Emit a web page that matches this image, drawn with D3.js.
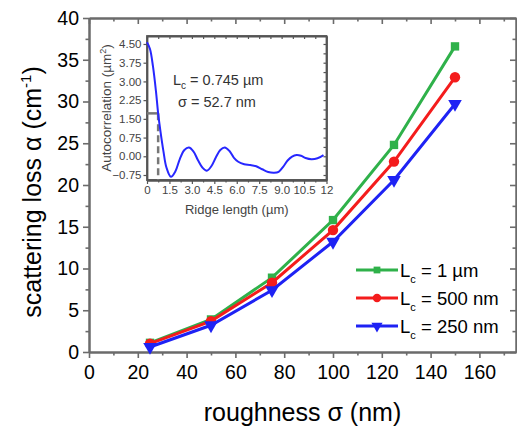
<!DOCTYPE html>
<html>
<head>
<meta charset="utf-8">
<script src="https://cdn.jsdelivr.net/npm/d3@7"></script>
<style>
  body { margin: 0; background: #fff; }
  svg { display: block; font-family: "Liberation Sans", Arial, Helvetica, sans-serif; }
</style>
</head>
<body>
<svg id="chart" width="517" height="432"></svg>
<script>
// Scattering loss versus sidewall roughness for three correlation lengths
const roughness = [25, 50, 75, 100, 125, 150];
const lossLc1um = [1.1, 3.9, 8.9, 15.8, 24.8, 36.6];
const lossLc500nm = [1.0, 3.7, 8.3, 14.6, 22.8, 32.9];
const lossLc250nm = [0.6, 3.2, 7.4, 13.2, 20.6, 29.7];
const seriesNames = ["1 \u00b5m", "500 nm", "250 nm"];
const xTicks = [0, 20, 40, 60, 80, 100, 120, 140, 160];
const yTicks = [0, 5, 10, 15, 20, 25, 30, 35, 40];

// Inset: measured autocorrelation of the ridge sidewall
const ridgeLength = [0, 0.2, 0.4, 0.6, 0.745, 0.9, 1.1, 1.3, 1.6, 1.9, 2.2, 2.5, 2.8, 3.1, 3.4, 3.7, 4.0, 4.3, 4.6, 4.9, 5.2, 5.5, 5.8, 6.1, 6.5, 6.9, 7.3, 7.7, 8.1, 8.5, 8.8, 9.1, 9.4, 9.7, 10.0, 10.3, 10.6, 11.0, 11.4, 11.8];
const autocorr = [4.57, 4.3, 3.6, 2.6, 1.72, 1.0, 0.2, -0.45, -0.82, -0.6, -0.1, 0.25, 0.35, 0.2, -0.15, -0.45, -0.58, -0.4, -0.05, 0.25, 0.35, 0.22, -0.05, -0.22, -0.32, -0.35, -0.4, -0.52, -0.63, -0.66, -0.62, -0.42, -0.17, -0.01, 0.05, 0.02, -0.07, -0.12, -0.08, 0.05];
const insetXTicks = [0, 1.5, 3, 4.5, 6, 7.5, 9, 10.5, 12];
const insetYTicks = [-0.75, 0, 0.75, 1.5, 2.25, 3, 3.75, 4.5];
const corrLength = 0.745;   // µm
const corrLevel = 1.72;     // autocorrelation at Lc
const sigmaNm = 52.7;

const svg = d3.select("#chart");
const axisColor = "#6b6b6b";
const colors = ["#2fb14a", "#f41c1c", "#1e22f4"];

// ---- main plot ----
const x = d3.scaleLinear().domain([0, 175]).range([89, 516]);
const y = d3.scaleLinear().domain([0, 40]).range([352, 18]);

function styleAxis(g, labelSize, labelColor) {
  g.selectAll(".domain").attr("stroke", axisColor).attr("stroke-width", 2);
  g.selectAll(".tick line").attr("stroke", axisColor).attr("stroke-width", 1.6);
  g.selectAll(".tick text").attr("fill", labelColor).style("font-size", labelSize + "px")
    .style("font-family", '"Liberation Sans", Arial, sans-serif');
}
const minorX = d3.range(10, 175, 20);
const minorY = d3.range(2.5, 40, 5);

// bottom
svg.append("g").attr("transform", `translate(0,${y(0)})`)
  .call(d3.axisBottom(x).tickValues(minorX).tickSize(3.5).tickSizeOuter(0).tickFormat(""))
  .call(g => styleAxis(g, 19, "#000"));
svg.append("g").attr("transform", `translate(0,${y(0)})`)
  .call(d3.axisBottom(x).tickValues(xTicks).tickSize(6).tickSizeOuter(0).tickPadding(7))
  .call(g => styleAxis(g, 19.5, "#000"));
// top
svg.append("g").attr("transform", `translate(0,${y(40)})`)
  .call(d3.axisTop(x).tickValues(minorX).tickSize(-3.5).tickSizeOuter(0).tickFormat(""))
  .call(g => styleAxis(g, 19, "#000"));
svg.append("g").attr("transform", `translate(0,${y(40)})`)
  .call(d3.axisTop(x).tickValues(xTicks).tickSize(-6).tickSizeOuter(0).tickFormat(""))
  .call(g => styleAxis(g, 19, "#000"));
// left
svg.append("g").attr("transform", `translate(${x(0)},0)`)
  .call(d3.axisLeft(y).tickValues(minorY).tickSize(3.5).tickSizeOuter(0).tickFormat(""))
  .call(g => styleAxis(g, 19, "#000"));
svg.append("g").attr("transform", `translate(${x(0)},0)`)
  .call(d3.axisLeft(y).tickValues(yTicks).tickSize(6).tickSizeOuter(0).tickPadding(4))
  .call(g => styleAxis(g, 19.5, "#000"));
// right
svg.append("g").attr("transform", `translate(${x(175)},0)`)
  .call(d3.axisRight(y).tickValues(minorY).tickSize(-3.5).tickSizeOuter(0).tickFormat(""))
  .call(g => styleAxis(g, 19, "#000"));
svg.append("g").attr("transform", `translate(${x(175)},0)`)
  .call(d3.axisRight(y).tickValues(yTicks).tickSize(-6).tickSizeOuter(0).tickFormat(""))
  .call(g => styleAxis(g, 19, "#000"));

// axis titles
svg.append("text").attr("x", (x(0) + x(175)) / 2).attr("y", 421)
  .attr("text-anchor", "middle").style("font-size", "25px").attr("fill", "#000")
  .text("roughness \u03c3 (nm)");
const yt = svg.append("text").attr("transform", `translate(41,${(y(0) + y(40)) / 2 + 7}) rotate(-90)`)
  .attr("text-anchor", "middle").style("font-size", "25px").attr("fill", "#000");
yt.append("tspan").text("scattering loss \u03b1 (cm");
yt.append("tspan").attr("dy", -10).style("font-size", "15px").text("-1");
yt.append("tspan").attr("dy", 10).text(")");

// ---- inset (drawn above the main frame, under the data) ----
const ix = d3.scaleLinear().domain([0, 12]).range([147, 326.5]);
const iy = d3.scaleLinear().domain([-0.95, 4.82]).range([180, 36]);
const inset = svg.append("g");
inset.append("rect").attr("x", ix(0)).attr("y", iy(4.82))
  .attr("width", ix(12) - ix(0)).attr("height", iy(-0.95) - iy(4.82)).attr("fill", "#fff");

const iMinorX = d3.range(0.75, 12, 1.5);
const iMinorY = d3.range(-0.375, 4.8, 0.75);
const iFmtX = d => (d === 0 || d === 12) ? String(d) : d.toFixed(1);

inset.append("g").attr("transform", `translate(0,${iy(-0.95)})`)
  .call(d3.axisBottom(ix).tickValues(iMinorX).tickSize(2.5).tickSizeOuter(0).tickFormat(""))
  .call(g => styleAxis(g, 11.5, "#444"));
inset.append("g").attr("transform", `translate(0,${iy(-0.95)})`)
  .call(d3.axisBottom(ix).tickValues(insetXTicks).tickSize(4).tickSizeOuter(0).tickPadding(2).tickFormat(iFmtX))
  .call(g => styleAxis(g, 11.5, "#444"));
inset.append("g").attr("transform", `translate(0,${iy(4.82)})`)
  .call(d3.axisTop(ix).tickValues(insetXTicks.concat(iMinorX)).tickSize(-3).tickSizeOuter(0).tickFormat(""))
  .call(g => styleAxis(g, 11.5, "#444"));
inset.append("g").attr("transform", `translate(${ix(0)},0)`)
  .call(d3.axisLeft(iy).tickValues(insetYTicks).tickSize(3.5).tickSizeOuter(0).tickPadding(2).tickFormat(d3.format(".2f")))
  .call(g => styleAxis(g, 11.5, "#444"));
inset.append("g").attr("transform", `translate(${ix(12)},0)`)
  .call(d3.axisRight(iy).tickValues(insetYTicks.concat(iMinorY)).tickSize(-3).tickSizeOuter(0).tickFormat(""))
  .call(g => styleAxis(g, 11.5, "#444"));
inset.selectAll(".domain").attr("stroke", "#555").attr("stroke-width", 1.8);
inset.selectAll(".tick line").attr("stroke", "#555").attr("stroke-width", 1.2);
// close the frame on all four sides
inset.append("rect").attr("x", ix(0)).attr("y", iy(4.82))
  .attr("width", ix(12) - ix(0)).attr("height", iy(-0.95) - iy(4.82))
  .attr("fill", "none").attr("stroke", "#555").attr("stroke-width", 1.8);

// correlation length marker
inset.append("line").attr("x1", ix(0)).attr("x2", ix(corrLength))
  .attr("y1", iy(corrLevel)).attr("y2", iy(corrLevel))
  .attr("stroke", "#777").attr("stroke-width", 2.5);
inset.append("line").attr("x1", ix(corrLength)).attr("x2", ix(corrLength))
  .attr("y1", iy(corrLevel)).attr("y2", iy(-0.95))
  .attr("stroke", "#777").attr("stroke-width", 2.5).attr("stroke-dasharray", "7,4");

// autocorrelation curve
const acLine = d3.line().x((d, i) => ix(ridgeLength[i])).y(d => iy(d)).curve(d3.curveCatmullRom.alpha(0.5));
inset.append("path").datum(autocorr).attr("d", acLine)
  .attr("fill", "none").attr("stroke", "#2727ff").attr("stroke-width", 2);

// inset titles
inset.append("text").attr("x", (ix(0) + ix(12)) / 2).attr("y", 214)
  .attr("text-anchor", "middle").style("font-size", "13px").attr("fill", "#444")
  .text("Ridge length (\u00b5m)");
const iyt = inset.append("text").attr("transform", `translate(111,${(iy(-0.95) + iy(4.82)) / 2}) rotate(-90)`)
  .attr("text-anchor", "middle").style("font-size", "13.5px").attr("fill", "#444");
iyt.append("tspan").text("Autocorrelation (\u00b5m");
iyt.append("tspan").attr("dy", -5).style("font-size", "9px").text("2");
iyt.append("tspan").attr("dy", 5).text(")");

// annotation
const a1 = inset.append("text").attr("x", 173).attr("y", 85).style("font-size", "14.5px").attr("fill", "#333");
a1.append("tspan").text("L");
a1.append("tspan").attr("dy", 4).style("font-size", "10px").text("c");
a1.append("tspan").attr("dy", -4).text(` = ${corrLength} \u00b5m`);
inset.append("text").attr("x", 178).attr("y", 107).style("font-size", "14.5px").attr("fill", "#333")
  .text(`\u03c3 = ${sigmaNm} nm`);

// ---- data series ----
const seriesValues = [lossLc1um, lossLc500nm, lossLc250nm];
const symbols = [
  { type: d3.symbolSquare, size: 70, rot: 0, legendSize: 46 },
  { type: d3.symbolCircle, size: 85, rot: 0, legendSize: 56 },
  { type: d3.symbolTriangle, size: 80, rot: 180, legendSize: 54 }
];
const line = d3.line().x((d, i) => x(roughness[i])).y(d => y(d));

seriesValues.forEach((vals, s) => {
  svg.append("path").datum(vals).attr("d", line)
    .attr("fill", "none").attr("stroke", colors[s]).attr("stroke-width", 3);
  svg.append("g").selectAll("path").data(vals).join("path")
    .attr("d", d3.symbol().type(symbols[s].type).size(symbols[s].size))
    .attr("transform", (d, i) => `translate(${x(roughness[i])},${y(d)}) rotate(${symbols[s].rot})`)
    .attr("fill", colors[s]);
});

// legend
const legend = svg.append("g");
seriesNames.forEach((name, s) => {
  const cy = 270 + s * 28;
  legend.append("line").attr("x1", 356).attr("x2", 398).attr("y1", cy).attr("y2", cy)
    .attr("stroke", colors[s]).attr("stroke-width", 3);
  legend.append("path")
    .attr("d", d3.symbol().type(symbols[s].type).size(symbols[s].legendSize))
    .attr("transform", `translate(377,${cy}) rotate(${symbols[s].rot})`)
    .attr("fill", colors[s]);
  const t = legend.append("text").attr("x", 400).attr("y", cy + 7)
    .style("font-size", "18.5px").attr("fill", "#000");
  t.append("tspan").text("L");
  t.append("tspan").attr("dy", 6).style("font-size", "11px").text("c");
  t.append("tspan").attr("dy", -6).text(" = " + name);
});
</script>
</body>
</html>
